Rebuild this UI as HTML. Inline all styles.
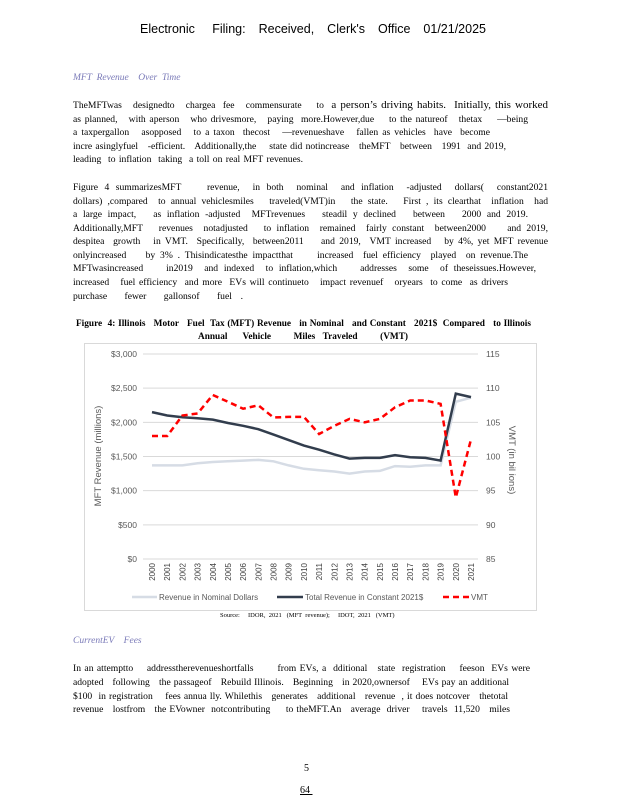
<!DOCTYPE html>
<html><head><meta charset="utf-8"><style>
body{margin:0;background:#fff;}
#p{position:relative;width:618px;height:800px;overflow:hidden;font-family:"Liberation Serif",serif;color:#000;}
.l{position:absolute;left:73px;font-size:9.6px;line-height:11px;white-space:nowrap;text-align:justify;text-align-last:justify;}
.h{position:absolute;font-style:italic;font-size:9.5px;color:#7a7ab8;left:73px;}
.t{position:absolute;font-weight:bold;font-size:9.3px;white-space:nowrap;text-align:justify;text-align-last:justify;}
</style></head><body><div id="p">
<div style="position:absolute;left:140px;top:22px;width:346px;font-family:'Liberation Sans',sans-serif;font-size:12.5px;text-align:justify;text-align-last:justify;white-space:nowrap">Electronic &nbsp;&nbsp; Filing: &nbsp; Received, &nbsp; Clerk's &nbsp; Office &nbsp; 01/21/2025</div>
<div class="h" style="top:73px">MFT &nbsp;Revenue &nbsp;&nbsp; Over &nbsp;Time</div>
<div class="l" style="top:100px;width:475px">TheMFTwas &nbsp; designedto &nbsp; chargea &nbsp;fee &nbsp; commensurate &nbsp;&nbsp; to &nbsp;<span style="font-size:11px">a person’s driving habits. &nbsp;Initially, this worked</span></div>
<div class="l" style="top:114px;width:455px">as planned, &nbsp; with aperson &nbsp; who drivesmore, &nbsp; paying &nbsp;more.However,due &nbsp;&nbsp; to the natureof &nbsp; thetax &nbsp;&nbsp; —being</div>
<div class="l" style="top:127px;width:417px">a taxpergallon &nbsp; asopposed &nbsp; to a taxon &nbsp;thecost &nbsp; —revenueshave &nbsp; fallen as vehicles &nbsp;have &nbsp;become</div>
<div class="l" style="top:141px;width:433px">incre asinglyfuel &nbsp; -efficient. &nbsp; Additionally,the &nbsp;&nbsp; state did notincrease &nbsp; theMFT &nbsp; between &nbsp; 1991 &nbsp;and 2019,</div>
<div class="l" style="top:154px;width:230px">leading &nbsp;to inflation &nbsp;taking &nbsp;a toll on real MFT revenues.</div>
<div class="l" style="top:182px;width:475px">Figure 4 summarizesMFT &nbsp;&nbsp; revenue, &nbsp;in both &nbsp;nominal &nbsp;and inflation &nbsp;-adjusted &nbsp;dollars( &nbsp;constant2021</div>
<div class="l" style="top:196px;width:475px">dollars) ,compared &nbsp;to annual vehiclesmiles &nbsp; traveled(VMT)in &nbsp; the state. &nbsp; First , its clearthat &nbsp;inflation &nbsp;had</div>
<div class="l" style="top:209px;width:455px">a large impact, &nbsp; as inflation -adjusted &nbsp;MFTrevenues &nbsp; steadil y declined &nbsp; between &nbsp; 2000 and 2019.</div>
<div class="l" style="top:223px;width:475px">Additionally,MFT &nbsp; revenues &nbsp;notadjusted &nbsp; to inflation &nbsp;remained &nbsp;fairly constant &nbsp;between2000 &nbsp;&nbsp; and 2019,</div>
<div class="l" style="top:236px;width:475px">despitea &nbsp;growth &nbsp; in VMT. &nbsp;Specifically, &nbsp;between2011 &nbsp;&nbsp; and 2019, &nbsp;VMT increased &nbsp; by 4%, yet MFT revenue</div>
<div class="l" style="top:250px;width:455px">onlyincreased &nbsp;&nbsp; by 3% . Thisindicatesthe impactthat &nbsp;&nbsp;&nbsp; increased &nbsp;fuel efficiency &nbsp;played &nbsp;on revenue.The</div>
<div class="l" style="top:263px;width:463px">MFTwasincreased &nbsp;&nbsp; in2019 &nbsp;and indexed &nbsp;to inflation,which &nbsp;&nbsp; addresses &nbsp;some &nbsp;of theseissues.However,</div>
<div class="l" style="top:277px;width:435px">increased &nbsp; fuel efficiency &nbsp;and more &nbsp;EVs will continueto &nbsp; impact revenuef &nbsp; oryears &nbsp;to come &nbsp;as drivers</div>
<div class="l" style="top:291px;width:170px">purchase &nbsp;fewer &nbsp;gallonsof &nbsp;fuel .</div>
<div class="t" style="left:76px;top:319px;width:455px">Figure &nbsp;4: Illinois &nbsp; Motor &nbsp; Fuel &nbsp;Tax (MFT) Revenue &nbsp; in Nominal &nbsp; and Constant &nbsp; 2021$ &nbsp;Compared &nbsp; to Illinois</div>
<div class="t" style="left:198px;top:332px;width:210px">Annual &nbsp;Vehicle &nbsp; Miles Traveled &nbsp; (VMT)</div>
<svg id="c" style="position:absolute;left:0;top:0" width="618" height="800" font-family="Liberation Sans,sans-serif"></svg>
<div style="position:absolute;left:220px;top:612px;font-size:6.5px;white-space:nowrap">Source: &nbsp;&nbsp;&nbsp; IDOR, &nbsp;2021 &nbsp; (MFT &nbsp;revenue); &nbsp;&nbsp;&nbsp; IDOT, &nbsp;2021 &nbsp; (VMT)</div>
<div class="h" style="top:636px">CurrentEV &nbsp;&nbsp; Fees</div>
<div class="l" style="top:663px;width:457px">In an attemptto &nbsp;&nbsp; addresstherevenueshortfalls &nbsp;&nbsp;&nbsp;&nbsp;&nbsp; from EVs, a &nbsp;dditional &nbsp; state &nbsp;registration &nbsp;&nbsp; feeson &nbsp;EVs were</div>
<div class="l" style="top:677px;width:436px">adopted &nbsp; following &nbsp; the passageof &nbsp; Rebuild Illinois. &nbsp; Beginning &nbsp; in 2020,ownersof &nbsp;&nbsp; EVs pay an additional</div>
<div class="l" style="top:691px;width:435px">$100 &nbsp;in registration &nbsp;&nbsp; fees annua lly. Whilethis &nbsp; generates &nbsp; additional &nbsp; revenue &nbsp;, it does notcover &nbsp; thetotal</div>
<div class="l" style="top:704px;width:437px">revenue &nbsp; lostfrom &nbsp; the EVowner &nbsp;notcontributing &nbsp;&nbsp;&nbsp; to theMFT.An &nbsp; average &nbsp;driver &nbsp;&nbsp; travels &nbsp;11,520 &nbsp; miles</div>
<div style="position:absolute;left:304px;top:763px;font-size:10px">5</div>
<div style="position:absolute;left:300px;top:785px;font-size:10px;text-decoration:underline">64&nbsp;</div>
</div>
<script>
var s=document.getElementById('c'),h='';
h+='<rect x="84.5" y="343.5" width="452" height="267" fill="none" stroke="#d9d9d9"/>';
var L=['$0','$500','$1,000','$1,500','$2,000','$2,500','$3,000'],R=[85,90,95,100,105,110,115];
for(var i=0;i<7;i++){var y=559-i*205/6;h+='<line x1="143" x2="478" y1="'+y+'" y2="'+y+'" stroke="#d9d9d9"/>';
h+='<text x="137" y="'+(y+3)+'" font-size="8.5" fill="#595959" text-anchor="end">'+L[i]+'</text>';
h+='<text x="486" y="'+(y+3)+'" font-size="8.5" fill="#595959">'+R[i]+'</text>';}
function X(i){return 152+i*319/21}
for(var i=0;i<22;i++){h+='<text transform="translate('+(X(i)+3)+',563) rotate(-90)" font-size="8" fill="#404040" text-anchor="end">'+(2000+i)+'</text>';}
var nom=[1370,1370,1370,1400,1420,1430,1440,1450,1430,1370,1320,1300,1280,1250,1280,1290,1360,1350,1370,1370,2300,2360];
var con=[2150,2100,2075,2060,2040,1990,1950,1900,1820,1740,1660,1600,1530,1470,1480,1480,1520,1490,1480,1440,2420,2370];
var vmt=[103,103,106,106.3,109,108,107,107.5,105.7,105.8,105.8,103.3,104.5,105.5,105,105.5,107.2,108.2,108.2,107.7,94,102.5];
function P(a,f){return a.map(function(v,i){return X(i).toFixed(1)+','+f(v).toFixed(1)}).join(' ')}
function Y(v){return 559-v*205/3000} function V(v){return 559-(v-85)*205/30}
h+='<polyline points="'+P(nom,Y)+'" fill="none" stroke="#d6dce5" stroke-width="2.5"/>';
h+='<polyline points="'+P(con,Y)+'" fill="none" stroke="#323d4d" stroke-width="2.5"/>';
h+='<polyline points="'+P(vmt,V)+'" fill="none" stroke="#ff0000" stroke-width="2.5" stroke-dasharray="6,4"/>';
h+='<text transform="translate(101,456) rotate(-90)" font-size="9.5" fill="#595959" text-anchor="middle">MFT Revenue (millions)</text>';
h+='<text transform="translate(509,460) rotate(90)" font-size="9.5" fill="#595959" text-anchor="middle">VMT (in bil ions)</text>';
h+='<line x1="132" x2="157" y1="597" y2="597" stroke="#d6dce5" stroke-width="2.5"/><text x="159" y="600" font-size="8" fill="#595959">Revenue in Nominal Dollars</text>';
h+='<line x1="277" x2="303" y1="597" y2="597" stroke="#323d4d" stroke-width="2.5"/><text x="305" y="600" font-size="8" fill="#595959">Total Revenue in Constant 2021$</text>';
h+='<line x1="443" x2="469" y1="597" y2="597" stroke="#ff0000" stroke-width="2.5" stroke-dasharray="6,4"/><text x="471" y="600" font-size="8" fill="#595959">VMT</text>';
s.innerHTML=h;
</script>
</body></html>
